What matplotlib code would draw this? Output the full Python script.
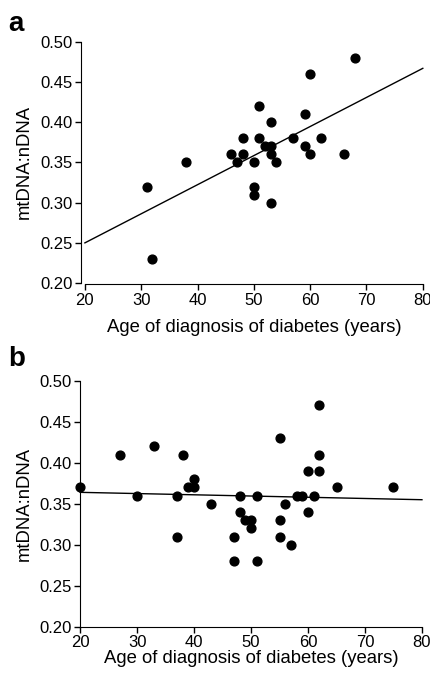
import numpy as np
import matplotlib
matplotlib.use("Agg")
import matplotlib.pyplot as plt

plt.rcParams['font.family'] = ['Liberation Sans', 'DejaVu Sans']

# panel a
age_a = [31, 32, 38, 46, 47, 48, 48, 50, 50, 50, 51, 51, 52, 53, 53, 53, 53,
         54, 57, 59, 59, 60, 60, 62, 66, 68]
ratio_a = [0.32, 0.23, 0.35, 0.36, 0.35, 0.38, 0.36, 0.35, 0.32, 0.31, 0.42,
           0.38, 0.37, 0.37, 0.40, 0.36, 0.30, 0.35, 0.38, 0.41, 0.37, 0.46,
           0.36, 0.38, 0.36, 0.48]
fit_a_x = [20, 80]
fit_a_y = [0.250, 0.467]

# panel b
age_b = [20, 27, 30, 33, 37, 37, 38, 39, 40, 40, 43, 47, 47, 48, 48, 49, 50,
         50, 51, 51, 55, 55, 55, 56, 57, 58, 59, 60, 60, 61, 62, 62, 62, 65, 75]
ratio_b = [0.37, 0.41, 0.36, 0.42, 0.36, 0.31, 0.41, 0.37, 0.37, 0.38, 0.35,
           0.31, 0.28, 0.36, 0.34, 0.33, 0.33, 0.32, 0.36, 0.28, 0.43, 0.33,
           0.31, 0.35, 0.30, 0.36, 0.36, 0.39, 0.34, 0.36, 0.47, 0.41, 0.39,
           0.37, 0.37]
fit_b_x = [20, 80]
fit_b_y = [0.364, 0.355]

xticks = [20, 30, 40, 50, 60, 70, 80]
yticks = [0.20, 0.25, 0.30, 0.35, 0.40, 0.45, 0.50]

fig = plt.figure(figsize=(4.31, 6.74), dpi=100)
ax_a = fig.add_axes([0.197, 0.580, 0.784, 0.358])
ax_b = fig.add_axes([0.186, 0.070, 0.793, 0.365])


def style(ax, xs, ys, fx, fy, labelpad):
    ax.plot(fx, fy, color='black', linewidth=1.0, clip_on=False)
    ax.scatter(xs, ys, s=40, color='black', zorder=3, clip_on=False)
    ax.set_xlim(20, 80)
    ax.set_ylim(0.20, 0.50)
    ax.set_xticks(xticks)
    ax.set_yticks(yticks)
    ax.set_yticklabels([f"{v:.2f}" for v in yticks])
    ax.spines['top'].set_visible(False)
    ax.spines['right'].set_visible(False)
    ax.tick_params(direction='out', length=4, width=1, labelsize=12, pad=2)
    ax.set_ylabel('mtDNA:nDNA', fontsize=13.3, labelpad=5)
    ax.set_xlabel('Age of diagnosis of diabetes (years)', fontsize=13.3,
                  labelpad=labelpad)


style(ax_a, age_a, ratio_a, fit_a_x, fit_a_y, 8)
style(ax_b, age_b, ratio_b, fit_b_x, fit_b_y, 0)
ax_a.spines['bottom'].set_position(('outward', 1))
ax_a.spines['left'].set_position(('outward', 3))

fig.text(0.02, 0.965, 'a', fontsize=20, fontweight='bold', va='center')
fig.text(0.02, 0.467, 'b', fontsize=20, fontweight='bold', va='center')

fig.savefig('out.png', dpi=100)
